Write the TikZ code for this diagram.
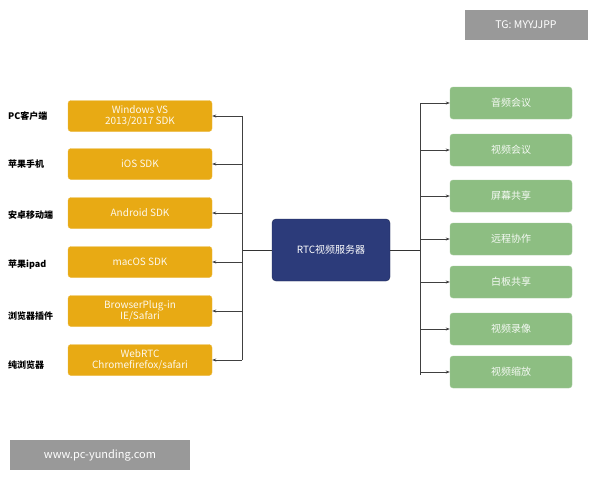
\documentclass[tikz,border=0pt]{standalone}
\usepackage{fontspec}
\setmainfont{Noto Sans CJK SC}
\usetikzlibrary{arrows.meta}
\definecolor{orng}{HTML}{E8AA14}
\definecolor{grn}{HTML}{8DBE82}
\definecolor{navy}{HTML}{2C3B7A}
\begin{document}
\begin{tikzpicture}[x=1pt,y=-1pt,
  lbox/.style={fill=orng,draw=orng!80!white,rounded corners=3pt,minimum width=144pt,minimum height=31pt,text=white!92!orng,font=\fontsize{10}{11}\selectfont,align=center,inner sep=1pt},
  rbox/.style={fill=grn,draw=grn!80!white,rounded corners=3pt,minimum width=122pt,minimum height=32pt,text=white!92!grn,font=\fontsize{10}{11}\selectfont},
  lab/.style={anchor=west,font=\bfseries\fontsize{9}{10}\selectfont,inner sep=0pt},
  conn/.style={draw=black!75,line width=0.6pt,-{Stealth[length=4pt,width=3pt]}}]
\useasboundingbox (0,0) rectangle (600,480);
\fill[white] (0,0) rectangle (600,480);
\node[lbox] (l1) at (140,116) {Windows VS\\2013/2017 SDK};
\node[lbox] (l2) at (140,164) {iOS SDK};
\node[lbox] (l3) at (140,213) {Android SDK};
\node[lbox] (l4) at (140,262) {macOS SDK};
\node[lbox] (l5) at (140,311) {BrowserPlug-in\\IE/Safari};
\node[lbox] (l6) at (140,360) {WebRTC\\Chromefirefox/safari};
\node[lab] (t1) at (8,116) {PC客户端};
\node[lab] (t2) at (8,164) {苹果手机};
\node[lab] (t3) at (8,215) {安卓移动端};
\node[lab] (t4) at (8,265) {苹果ipad};
\node[lab] (t5) at (8,316) {浏览器插件};
\node[lab] (t6) at (8,365) {纯浏览器};
\node[fill=navy,draw=navy!70!black,rounded corners=4pt,minimum width=118pt,minimum height=62pt,text=white,font=\fontsize{10}{11}\selectfont] (c) at (331,250) {RTC视频服务器};
\coordinate (lb) at (242,250);
\coordinate (rb) at (420,250);
\draw[black!80,line width=0.8pt] (c.west) -- (lb) (c.east) -- (rb);
\draw[black!75,line width=0.6pt] (242,116) -- (242,360);
\draw[black!75,line width=0.6pt] (420,103) -- (420,375);
\foreach \n/\y in {l1/116,l2/164,l3/213,l4/262,l5/311,l6/360}
  \draw[conn] (242,\y) -- (\n.east);
\node[rbox] (r1) at (511,103) {音频会议};
\node[rbox] (r2) at (511,150) {视频会议};
\node[rbox] (r3) at (511,196) {屏幕共享};
\node[rbox] (r4) at (511,239) {远程协作};
\node[rbox] (r5) at (511,282) {白板共享};
\node[rbox] (r6) at (511,329) {视频录像};
\node[rbox] (r7) at (511,372) {视频缩放};
\foreach \n/\y in {r1/103,r2/150,r3/196,r4/239,r5/282,r6/329,r7/372}
  \draw[conn] (420,\y) -- (\n.west);
\node[fill=black!40,text=white,minimum width=123pt,minimum height=30pt,font=\fontsize{10.5}{12}\selectfont] (w1) at (526,25) {TG: MYYJJPP};
\node[fill=black!40,text=white,minimum width=180pt,minimum height=30pt,font=\fontsize{11}{12}\selectfont] (w2) at (100,455) {www.pc-yunding.com};
\end{tikzpicture}
\end{document}
